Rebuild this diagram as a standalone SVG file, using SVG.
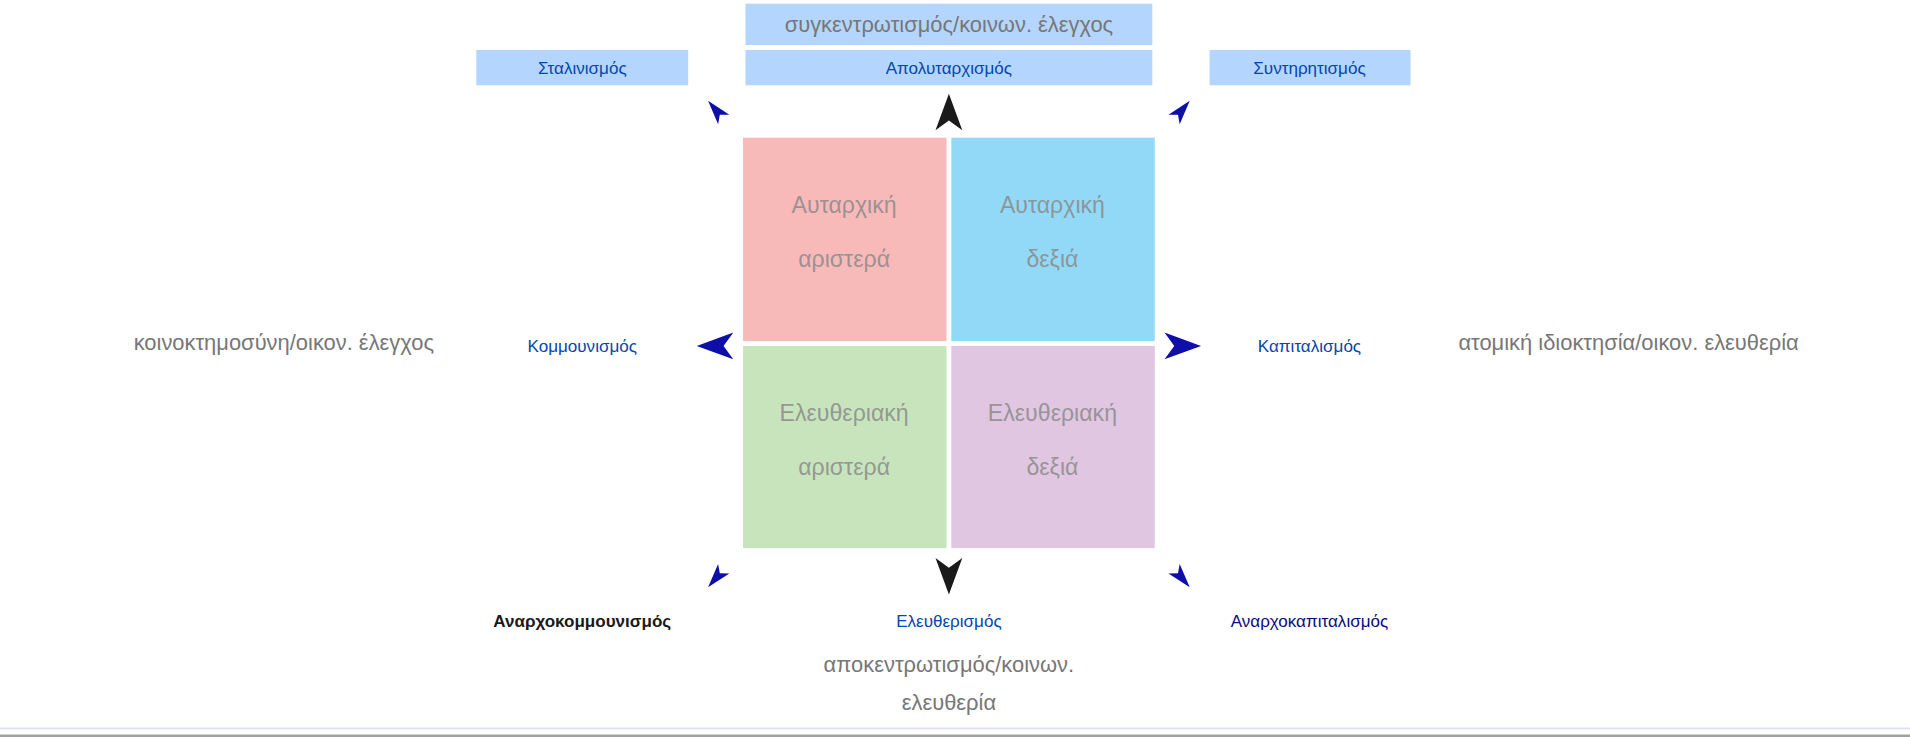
<svg xmlns="http://www.w3.org/2000/svg" width="1910" height="740" viewBox="0 0 1910 740">
<style>
text{font-family:"Liberation Sans",Arial,sans-serif;text-anchor:middle}
.g{fill:#777;font-size:18px}
.b{fill:#0645ad;font-size:14px}
.q{fill:#8a8a8a;font-size:19px;fill-opacity:.85}
.box{fill:#b4d6fe}
.ab{fill:#0e0ea8}
.ak{fill:#1a1a1a}
</style>
<defs>
<polygon id="dart" points="0,-16 11,14 0,6 -11,14"/>
<polygon id="sd" points="0,-12 6,8 0,3 -6,8"/>
</defs>
<rect width="1910" height="740" fill="#fff"/>
<g transform="scale(1.2181)">
<g id="top-label"><rect class="box" x="612" y="3" width="334" height="34"/><text class="g" x="779" y="26">συγκεντρωτισμός/κοινων. έλεγχος</text></g>
<g id="apolytarchismos"><rect class="box" x="612" y="41" width="334" height="29"/><text class="b" x="779" y="61">Απολυταρχισμός</text></g>
<g id="stalinismos"><rect class="box" x="391" y="41" width="174" height="29"/><text class="b" x="478" y="61">Σταλινισμός</text></g>
<g id="syntiritismos"><rect class="box" x="993" y="41" width="165" height="29"/><text class="b" x="1075" y="61">Συντηρητισμός</text></g>
<g id="q-tl"><rect x="610" y="113" width="167" height="167" fill="#f8b9b9"/><text class="q" x="693" y="175">Αυταρχική</text><text class="q" x="693" y="219">αριστερά</text></g>
<g id="q-tr"><rect x="781" y="113" width="167" height="167" fill="#92d9f7"/><text class="q" x="864" y="175">Αυταρχική</text><text class="q" x="864" y="219">δεξιά</text></g>
<g id="q-bl"><rect x="610" y="284" width="167" height="166" fill="#c8e4bd"/><text class="q" x="693" y="346">Ελευθεριακή</text><text class="q" x="693" y="390">αριστερά</text></g>
<g id="q-br"><rect x="781" y="284" width="167" height="166" fill="#e0c6e0"/><text class="q" x="864" y="346">Ελευθεριακή</text><text class="q" x="864" y="390">δεξιά</text></g>
<g id="left-labels"><text class="g" x="233" y="287">κοινοκτημοσύνη/οικον. έλεγχος</text><text class="b" x="478" y="289">Κομμουνισμός</text></g>
<g id="right-labels"><text class="b" x="1075" y="289">Καπιταλισμός</text><text class="g" x="1337" y="287">ατομική ιδιοκτησία/οικον. ελευθερία</text></g>
<g id="bottom-labels">
<text x="478" y="515" style="font-size:14px;font-weight:bold;fill:#1a1a1a">Αναρχοκομμουνισμός</text>
<text class="b" x="779" y="515">Ελευθερισμός</text>
<text x="1075" y="515" style="font-size:14px;fill:#0a0a80">Αναρχοκαπιταλισμός</text>
<text class="g" x="779" y="552">αποκεντρωτισμός/κοινων.</text>
<text class="g" x="779" y="583">ελευθερία</text>
</g>
<g id="connectors">
<use href="#dart" class="ak" transform="translate(779,93)"/>
<use href="#dart" class="ak" transform="translate(779,472) rotate(180)"/>
<use href="#dart" class="ab" transform="translate(588,284) rotate(-90)"/>
<use href="#dart" class="ab" transform="translate(970,284) rotate(90)"/>
<use href="#sd" class="ab" transform="translate(589,92) rotate(-40)"/>
<use href="#sd" class="ab" transform="translate(969,92) rotate(40)"/>
<use href="#sd" class="ab" transform="translate(589,473) rotate(-140)"/>
<use href="#sd" class="ab" transform="translate(969,473) rotate(140)"/>
</g>
<line x1="0" y1="598" x2="1568" y2="598" stroke="#dcdcff" stroke-width="1.5"/>
<line x1="0" y1="604" x2="1568" y2="604" stroke="#a0a0a0" stroke-width="2"/>
</g>
</svg>
